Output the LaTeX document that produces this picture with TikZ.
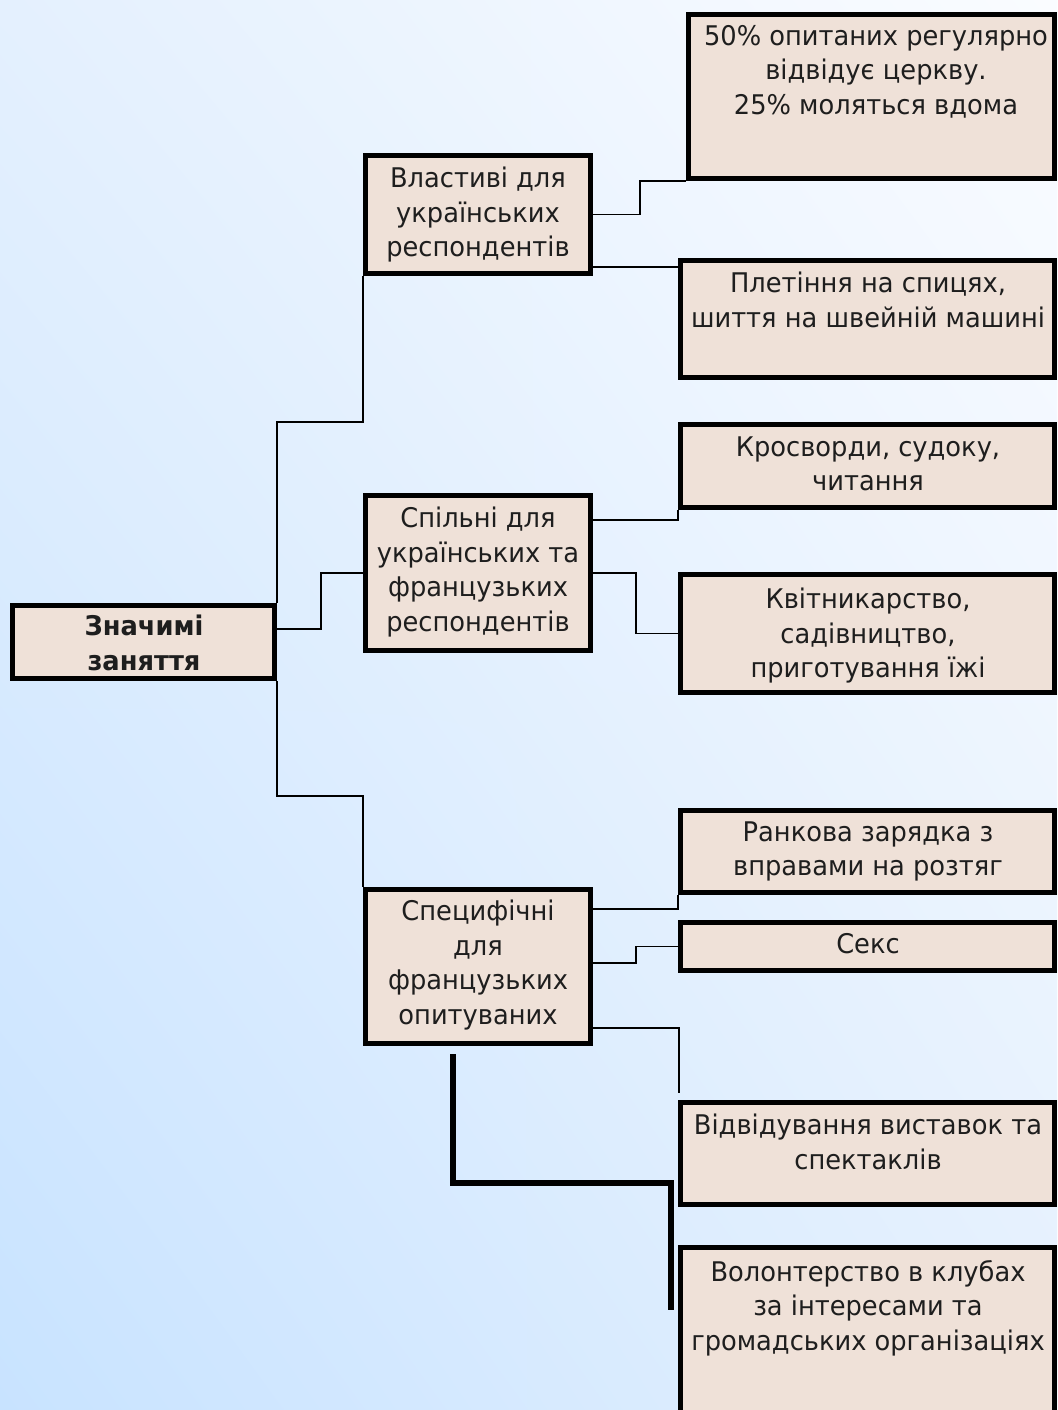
\documentclass[tikz,border=0pt]{standalone}
\usepackage{fontspec}
\setmainfont{DejaVu Sans}[FakeStretch=0.95]
\usepackage{tikz}
\usetikzlibrary{fit,positioning,shadings}
\definecolor{BoxBeige}{RGB}{239,225,216}
\definecolor{SkyLow}{RGB}{200,227,255}
\definecolor{SkyMid}{RGB}{228,240,254}
\definecolor{SkyHigh}{RGB}{250,252,255}
\definecolor{InkGray}{RGB}{30,30,30}

\begin{document}
\begin{tikzpicture}[x=0.75pt,y=-0.75pt,
    box/.style={draw=black,line width=3.8pt,fill=BoxBeige,inner sep=0pt},
    txt/.style={anchor=north,align=center,inner sep=0pt,text=InkGray,font=\fontsize{20.3}{25.9}\selectfont},
    link/.style={draw=black,line width=1pt},
    thickline/.style={draw=black,line width=3.8pt}]
      \clip (0,0) rectangle (1057,1410);
      \useasboundingbox (0,0) rectangle (1057,1410);
      \shade[upper left=SkyMid,upper right=SkyHigh,lower left=SkyLow,lower right=SkyMid]
        (0,0) rectangle (1057,1410);
      % root and middle column
      \node[box,fit={(12.5,605.5) (274.5,678.5)}] (root) {};
      \node[box,fit={(365.5,155.5) (590.5,273.5)}] (ua) {};
      \node[box,fit={(365.5,495.5) (590.5,650.5)}] (both) {};
      \node[box,fit={(365.5,889.5) (590.5,1043.5)}] (fr) {};
      % leaves
      \node[box,fit={(688.5,14.5) (1054.5,178.5)}] (church) {};
      \node[box,fit={(680.5,260.5) (1054.5,377.5)}] (knit) {};
      \node[box,fit={(680.5,424.5) (1054.5,507.5)}] (cross) {};
      \node[box,fit={(680.5,574.5) (1054.5,692.5)}] (garden) {};
      \node[box,fit={(680.5,810.5) (1054.5,892.5)}] (morning) {};
      \node[box,fit={(680.5,922.5) (1054.5,970.5)}] (sex) {};
      \node[box,fit={(680.5,1102.5) (1054.5,1204.5)}] (shows) {};
      \node[box,fit={(680.5,1247.5) (1054.5,1440)}] (volunt) {};
      % texts
      \node[txt,font=\fontsize{20.3}{25.9}\selectfont\bfseries] at (144,615) {Значимі\\заняття};
      \node[txt] at (478,167) {Властиві для\\українських\\респондентів};
      \node[txt] at (478,507) {Спільні для\\українських та\\французьких\\респондентів};
      \node[txt] at (478,900) {Специфічні\\для\\французьких\\опитуваних};
      \node[txt] at (876,25) {50\% опитаних регулярно\\відвідує церкву.\\25\% моляться вдома};
      \node[txt] at (868,272) {Плетіння на спицях,\\шиття на швейній машині};
      \node[txt] at (868,436) {Кросворди, судоку,\\читання};
      \node[txt] at (868,588) {Квітникарство,\\садівництво,\\приготування їжі};
      \node[txt] at (868,821) {Ранкова зарядка з\\вправами на розтяг};
      \node[txt] at (868,933) {Секс};
      \node[txt] at (868,1114) {Відвідування виставок та\\спектаклів};
      \node[txt] at (868,1260) {Волонтерство в клубах\\за інтересами та\\громадських організаціях};
      % root links
      \draw[link] (root.north east) -- ++(0,-181) -| (ua.south west);
      \draw[link] (root.east |- 0,629) -- ++(44,0) |- (both.west);
      \draw[link] (root.south east) -- ++(0,115) -| (fr.north west);
      % leaf links
      \draw[link] (ua.east) -- ++(47,0) |- (church.south west);
      \draw[link] (ua.east |- 0,267) -- (knit.west |- 0,267);
      \draw[link] (both.east |- 0,520) -| (cross.south west);
      \draw[link] (both.east) -- ++(43,0) |- (garden.west);
      \draw[link] (fr.east |- 0,909) -| (morning.south west);
      \draw[link] (fr.east |- 0,963) -- ++(43,0) |- (sex.west);
      \coordinate (shows top) at (679,1093);
      \draw[link] (fr.east |- 0,1028) -| (shows top);
      \coordinate (fr foot) at (453,1054);
      \coordinate (volunt bend) at (671,1310);
      \draw[thickline] (fr foot) |- (671,1183) -- (volunt bend);
\end{tikzpicture}
\end{document}
